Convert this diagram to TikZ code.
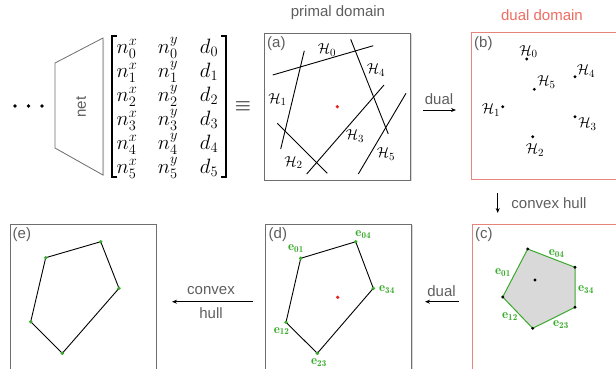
\documentclass[tikz,border=0pt]{standalone}
\usepackage{fontspec}
\setsansfont{Liberation Sans}
\usepackage{amsmath}
\usetikzlibrary{arrows.meta,shadows}
\definecolor{framegray}{HTML}{6E6E6E}
\definecolor{textgray}{HTML}{5E5E5E}
\definecolor{salmon}{HTML}{E8847E}
\definecolor{dualred}{HTML}{EE6C62}
\definecolor{hullgreen}{HTML}{3AAA2C}
\definecolor{hullfill}{HTML}{D9D9D9}
\definecolor{reddot}{HTML}{E8201A}
\begin{document}
\begin{tikzpicture}[x=1pt,y=-1pt,
  panel/.style={draw=framegray, line width=0.8pt, fill=white, minimum width=146pt, minimum height=147pt, inner sep=0pt,
    drop shadow={shadow xshift=1pt, shadow yshift=-1pt, opacity=0.3}},
  redpanel/.style={panel, draw=salmon},
  sflbl/.style={font=\sffamily\fontsize{15}{18}\selectfont, text=textgray, inner sep=0pt},
  plbl/.style={font=\sffamily\fontsize{15}{18}\selectfont, text=textgray, inner sep=0pt},
  mlbl/.style={font=\fontsize{15}{17}\selectfont, inner sep=0pt},
  ment/.style={font=\fontsize{20}{24}\selectfont, inner sep=0pt, anchor=base},
  elab/.style={font=\fontsize{13}{15}\selectfont, text=hullgreen, inner sep=0pt},
  hline/.style={line width=0.9pt, black},
  poly/.style={line width=0.9pt, black},
  arr/.style={line width=0.8pt, -{Stealth[length=5pt,width=4pt]}},
  bdot/.style={circle, fill=black, inner sep=0pt, minimum size=3.2pt},
  gdot/.style={circle, fill=hullgreen, inner sep=0pt, minimum size=3.8pt},
  rdot/.style={circle, fill=reddot, inner sep=0pt, minimum size=3.6pt},
  trap/.style={draw=framegray, line width=0.8pt, fill=white, drop shadow={shadow xshift=1pt, shadow yshift=-1pt, opacity=0.3}}
]
\useasboundingbox (0,0) rectangle (616,368);

% dots
\node[bdot, minimum size=3.6pt] (d1) at (15,106) {};
\node[bdot, minimum size=3.6pt] (d2) at (28.5,106) {};
\node[bdot, minimum size=3.6pt] (d3) at (42,106) {};

% net trapezoid
\draw[trap] (55,63) -- (103,38) -- (103,175) -- (55,148) -- cycle;
\node[sflbl, rotate=90] (net) at (81,107) {net};

% matrix
\foreach \r in {0,...,5} {
  \node[ment] (nx\r) at (127,{53+24*\r}) {\smash{$n^x_{\r}$}\vphantom{n}};
  \node[ment] (ny\r) at (168,{53+24*\r}) {\smash{$n^y_{\r}$}\vphantom{n}};
  \node[ment] (dd\r) at (209,{53+24*\r}) {\smash{$d_{\r}$}\vphantom{n}};
}
\draw[line width=1.1pt] (117,36) -- (112,36) -- (112,177) -- (117,177);
\draw[line width=1.1pt] (221,36) -- (226,36) -- (226,177) -- (221,177);
\node[font=\fontsize{20}{24}\selectfont, inner sep=0pt] (eq) at (243,107) {$\equiv$};

% titles
\node[plbl] (tprimal) at (338,13) {primal domain};
\node[plbl, text=dualred] (tdual) at (542,15) {dual domain};

% ---------- panel (a)
\node[panel] (pa) at (337.5,106.5) {};
\node[sflbl, anchor=north west] (la) at (267,36) {(a)};
\draw[hline] (272.7,75) -- (373.3,45.7);
\draw[hline] (304.3,50.7) -- (280.7,149);
\draw[hline] (277.3,123.3) -- (327.3,173.3);
\draw[hline] (384,85) -- (306.7,174);
\draw[hline] (350.7,39.3) -- (388.3,134);
\draw[hline] (406,93.3) -- (358.3,174);
\node[rdot] (ca) at (337.3,106.7) {};
\node[mlbl] (ha0) at (327,50) {$\mathcal{H}_0$};
\node[mlbl] (ha4) at (376,70) {$\mathcal{H}_4$};
\node[mlbl] (ha1) at (277.5,99.5) {$\mathcal{H}_1$};
\node[mlbl] (ha3) at (355,136) {$\mathcal{H}_3$};
\node[mlbl] (ha2) at (293.5,162.5) {$\mathcal{H}_2$};
\node[mlbl] (ha5) at (386,154) {$\mathcal{H}_5$};

% dual arrow (top)
\coordinate (du1) at (423,110);
\coordinate (du2) at (456,110);
\draw[arr] (du1) -- (du2);
\node[sflbl] (tdual1) at (439,99) {dual};

% ---------- panel (b)
\node[redpanel] (pb) at (544,105.5) {};
\node[sflbl, anchor=north west] (lb) at (474,36) {(b)};
\node[bdot] (b0) at (526.7,59) {};
\node[bdot] (b5) at (534.3,89.3) {};
\node[bdot] (b4) at (575,76.7) {};
\node[bdot] (b1) at (502.7,106.7) {};
\node[bdot] (b3) at (575,116.7) {};
\node[bdot] (b2) at (532.7,136.7) {};
\node[mlbl] (hb0) at (528.5,51.5) {$\mathcal{H}_0$};
\node[mlbl] (hb5) at (546.5,82) {$\mathcal{H}_5$};
\node[mlbl] (hb4) at (586,71) {$\mathcal{H}_4$};
\node[mlbl] (hb1) at (491,110) {$\mathcal{H}_1$};
\node[mlbl] (hb3) at (587.5,124) {$\mathcal{H}_3$};
\node[mlbl] (hb2) at (535,150) {$\mathcal{H}_2$};

% convex hull arrow (down)
\coordinate (ch1) at (497.7,193);
\coordinate (ch2) at (497.7,213);
\draw[arr] (ch1) -- (ch2);
\node[sflbl] (tch) at (549,203) {convex hull};

% ---------- panel (c)
\node[redpanel] (pc) at (545,297.5) {};
\node[sflbl, anchor=north west] (lc) at (475,227) {(c)};
\coordinate (cA) at (527.7,249);
\coordinate (cB) at (575,267.3);
\coordinate (cC) at (575,307.3);
\coordinate (cD) at (532.7,328.3);
\coordinate (cE) at (502.7,297);
\fill[hullfill] (cA) -- (cB) -- (cC) -- (cD) -- (cE) -- cycle;
\draw[hullgreen, line width=1pt] (cA) -- (cB) -- (cC) -- (cD) -- (cE) -- cycle;
\foreach \p in {cA,cB,cC,cD,cE} \node[bdot] at (\p) {};
\node[bdot] (cc) at (535,280) {};
\node[elab] (ce04) at (556.7,253.3) {$\mathbf{e}_{\mathbf{04}}$};
\node[elab] (ce34) at (586,289.3) {$\mathbf{e}_{\mathbf{34}}$};
\node[elab] (ce23) at (561,324.3) {$\mathbf{e}_{\mathbf{23}}$};
\node[elab] (ce12) at (510,316.7) {$\mathbf{e}_{\mathbf{12}}$};
\node[elab] (ce01) at (503,272.3) {$\mathbf{e}_{\mathbf{01}}$};

% dual arrow (bottom)
\coordinate (dl1) at (459,301.7);
\coordinate (dl2) at (425,301.7);
\draw[arr] (dl1) -- (dl2);
\node[sflbl] (tdual2) at (441.5,291) {dual};

% ---------- panel (d)
\node[panel] (pd) at (338.5,297.5) {};
\node[sflbl, anchor=north west] (ld) at (268.5,227) {(d)};
\coordinate (dA) at (300.7,258.3);
\coordinate (dB) at (355.7,241.7);
\coordinate (dC) at (373.3,288.3);
\coordinate (dD) at (317.3,353.3);
\coordinate (dE) at (286,322.3);
\draw[poly] (dA) -- (dB) -- (dC) -- (dD) -- (dE) -- cycle;
\foreach \p in {dA,dB,dC,dD,dE} \node[gdot] at (\p) {};
\node[rdot] (cd) at (337.7,297.3) {};
\node[elab] (de01) at (296,249) {$\mathbf{e}_{\mathbf{01}}$};
\node[elab] (de04) at (363.3,235) {$\mathbf{e}_{\mathbf{04}}$};
\node[elab] (de34) at (387,289.3) {$\mathbf{e}_{\mathbf{34}}$};
\node[elab] (de12) at (281.7,331) {$\mathbf{e}_{\mathbf{12}}$};
\node[elab] (de23) at (319,362.3) {$\mathbf{e}_{\mathbf{23}}$};

% convex hull arrow (bottom left)
\coordinate (cl1) at (253,301.7);
\coordinate (cl2) at (172,301.7);
\draw[arr] (cl1) -- (cl2);
\node[sflbl] (tconv) at (211,291) {convex};
\node[sflbl] (thull) at (211,313) {hull};

% ---------- panel (e)
\node[panel] (pe) at (83,297.5) {};
\node[sflbl, anchor=north west] (le) at (12.5,227) {(e)};
\coordinate (eA) at (45.7,257.7);
\coordinate (eB) at (100.7,241.7);
\coordinate (eC) at (119,288.3);
\coordinate (eD) at (62.3,353.3);
\coordinate (eE) at (30.7,321.7);
\draw[poly] (eA) -- (eB) -- (eC) -- (eD) -- (eE) -- cycle;
\foreach \p in {eA,eB,eC,eD,eE} \node[gdot] at (\p) {};
\end{tikzpicture}
\end{document}
